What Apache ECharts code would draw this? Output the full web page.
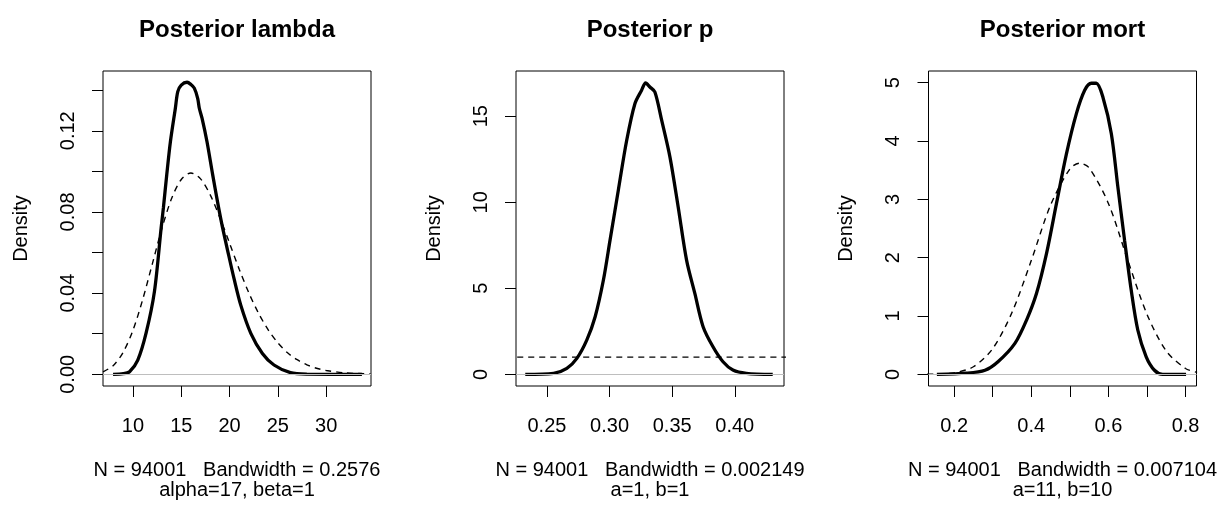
<!DOCTYPE html>
<html>
<head>
<meta charset="utf-8">
<script src="https://cdn.jsdelivr.net/npm/echarts@6/dist/echarts.min.js"></script>
<style>
  html, body { margin: 0; padding: 0; background: #fff; }
  #chart { width: 1222px; height: 505px; }
</style>
</head>
<body>
<div id="chart"></div>
<script>
// panel titles and x labels
const titles = ['Posterior lambda', 'Posterior p', 'Posterior mort']
const xlabs = [
  'N = 94001   Bandwidth = 0.2576\nalpha=17, beta=1',
  'N = 94001   Bandwidth = 0.002149\na=1, b=1',
  'N = 94001   Bandwidth = 0.007104\na=11, b=10'
]

// lambda: posterior density (solid) and gamma prior (dashed)
const lambdaX = [7.94, 9.0, 9.65, 10.5, 11.37, 12.23, 12.92, 13.15, 13.5, 13.88, 14.39, 14.64, 15.0, 15.6, 16.0, 16.35, 16.7, 16.87, 17.15, 17.66, 18.25, 18.87, 19.28, 19.8, 20.47, 21.16, 22.2, 23.4, 24.6, 26.3, 28.0, 33.7]
const lambdaPost = [0, 0.0003, 0.0013, 0.007, 0.0205, 0.041, 0.0722, 0.082, 0.0984, 0.1147, 0.1311, 0.1393, 0.1425, 0.1439, 0.1428, 0.141, 0.136, 0.1311, 0.1262, 0.1147, 0.0984, 0.082, 0.0722, 0.061, 0.047, 0.0341, 0.0202, 0.0103, 0.0046, 0.0008, 0.0001, 0]
const lambdaPriorX = [6.9, 8, 9, 10, 11, 12, 13, 14, 15, 16, 17, 18, 19, 20, 21, 22, 23, 24, 25, 26, 27, 28, 29, 30, 32, 34.6]
const lambdaPrior = [0.0012, 0.0045, 0.011, 0.0217, 0.0367, 0.0543, 0.0719, 0.0866, 0.096, 0.0992, 0.0963, 0.0884, 0.0772, 0.0646, 0.0518, 0.0401, 0.0301, 0.0219, 0.0155, 0.0106, 0.0072, 0.0047, 0.003, 0.0019, 0.0007, 0.0002]

// p: posterior density and flat prior
const pX = [0.2327, 0.2553, 0.2659, 0.2739, 0.2818, 0.2885, 0.2951, 0.3004, 0.307, 0.3137, 0.3203, 0.3256, 0.3288, 0.3322, 0.3362, 0.3416, 0.3482, 0.3548, 0.3615, 0.3681, 0.3747, 0.3826, 0.3906, 0.3985, 0.4092, 0.4303]
const pPost = [0, 0.06, 0.35, 0.93, 1.99, 3.35, 5.48, 7.8, 10.7, 13.6, 15.74, 16.51, 16.93, 16.7, 16.41, 14.77, 12.64, 9.73, 6.64, 4.7, 2.77, 1.6, 0.73, 0.25, 0.06, 0]
const pPriorX = [0.2, 0.46]
const pPrior = [1, 1]

// mort: posterior density and beta prior
const mortX = [0.1553, 0.2328, 0.2801, 0.3145, 0.3576, 0.3878, 0.4137, 0.4395, 0.4654, 0.4912, 0.517, 0.5385, 0.5558, 0.5687, 0.5858, 0.6075, 0.6246, 0.6419, 0.6592, 0.6762, 0.698, 0.7194, 0.7408, 0.8013]
const mortPost = [0, 0.02, 0.07, 0.22, 0.53, 0.93, 1.39, 2.07, 2.93, 3.78, 4.47, 4.87, 4.99, 4.99, 4.75, 4.13, 3.21, 2.3, 1.44, 0.76, 0.3, 0.07, 0, 0]
const mortPriorX = [0.13, 0.15, 0.2, 0.25, 0.3, 0.35, 0.4, 0.45, 0.5, 0.525, 0.55, 0.6, 0.65, 0.7, 0.75, 0.8, 0.83]
const mortPrior = [0.0007, 0.0025, 0.026, 0.13, 0.44, 1.06, 1.95, 2.9, 3.52, 3.62, 3.54, 2.93, 1.96, 1.03, 0.4, 0.1, 0.034]

// ticks and labels
const xTicks = [[10, 15, 20, 25, 30], [0.25, 0.30, 0.35, 0.40], [0.2, 0.3, 0.4, 0.5, 0.6, 0.7, 0.8]]
const xLabels = [[10, 15, 20, 25, 30], [0.25, 0.30, 0.35, 0.40], [0.2, 0.4, 0.6, 0.8]]
const yTicks = [[0, 0.02, 0.04, 0.06, 0.08, 0.10, 0.12, 0.14], [0, 5, 10, 15], [0, 1, 2, 3, 4, 5]]
const yLabels = [[0, 0.04, 0.08, 0.12], [0, 5, 10, 15], [0, 1, 2, 3, 4, 5]]

const xRange = [[6.9, 34.64], [0.2253, 0.4393], [0.1336, 0.8284]]
const yMax = [0.1437, 16.95, 5.0]
const xDigits = [0, 2, 1]
const yDigits = [2, 0, 0]

const zip = (xs, ys) => xs.map((x, i) => [x, ys[i]])
const posts = [zip(lambdaX, lambdaPost), zip(pX, pPost), zip(mortX, mortPost)]
const priors = [zip(lambdaPriorX, lambdaPrior), zip(pPriorX, pPrior), zip(mortPriorX, mortPrior)]

const FONT = 'Liberation Sans, Arial, Helvetica, sans-serif'
const gridLeft = [103, 516, 928.5]
const gridTop = 71
const gridW = 268
const gridH = 316

const chart = echarts.init(document.getElementById('chart'), null, { renderer: 'canvas' })

const option = {
  animation: false,
  backgroundColor: '#fff',
  textStyle: { fontFamily: FONT },
  title: titles.map((t, i) => ({
    text: t,
    left: gridLeft[i] + gridW / 2,
    top: 30,
    padding: 0,
    textAlign: 'center',
    textVerticalAlign: 'middle',
    textStyle: { fontFamily: FONT, fontSize: 24, fontWeight: 'bold', color: '#000' }
  })),
  grid: gridLeft.map((l) => ({
    left: l,
    top: gridTop,
    width: gridW,
    height: gridH,
    show: true,
    borderColor: '#000',
    borderWidth: 1,
    backgroundColor: 'transparent'
  })),
  xAxis: xRange.map((r, i) => ({
    type: 'value',
    gridIndex: i,
    min: r[0],
    max: r[1],
    name: xlabs[i],
    nameLocation: 'middle',
    nameGap: 74,
    nameTextStyle: { fontFamily: FONT, fontSize: 20, color: '#000', lineHeight: 20 },
    // keep the axis on the box edge, not at y = 0
    axisLine: { show: false, onZero: false },
    splitLine: { show: false },
    axisTick: { show: true, inside: false, length: 11, customValues: xTicks[i], lineStyle: { color: '#000', width: 1 } },
    axisLabel: {
      customValues: xLabels[i],
      margin: 30,
      fontFamily: FONT,
      fontSize: 20,
      color: '#000',
      formatter: (v) => Number(v).toFixed(xDigits[i])
    }
  })),
  yAxis: yMax.map((m, i) => ({
    type: 'value',
    gridIndex: i,
    min: -0.04 * m,
    max: 1.04 * m,
    name: 'Density',
    nameLocation: 'middle',
    nameRotate: 90,
    nameGap: 72,
    nameTextStyle: { fontFamily: FONT, fontSize: 20, color: '#000' },
    axisLine: { show: false, onZero: false },
    splitLine: { show: false },
    axisTick: { show: true, inside: false, length: 11, customValues: yTicks[i], lineStyle: { color: '#000', width: 1 } },
    axisLabel: {
      customValues: yLabels[i],
      rotate: 90,
      margin: 25,
      fontFamily: FONT,
      fontSize: 20,
      color: '#000',
      formatter: (v) => Number(v).toFixed(yDigits[i])
    }
  })),
  series: []
}

for (let i = 0; i < 3; i++) {
  option.series.push({
    type: 'line',
    xAxisIndex: i,
    yAxisIndex: i,
    data: priors[i],
    smooth: 0.3,
    showSymbol: false,
    clip: true,
    lineStyle: { color: '#000', width: 1.4, type: [6, 5] },
    z: 3
  })
  option.series.push({
    type: 'line',
    xAxisIndex: i,
    yAxisIndex: i,
    data: posts[i],
    smooth: 0.3,
    showSymbol: false,
    clip: true,
    lineStyle: { color: '#000', width: 3.3 },
    z: 4,
    markLine: {
      silent: true,
      symbol: 'none',
      label: { show: false },
      lineStyle: { color: '#bebebe', width: 1, type: 'solid' },
      data: [{ yAxis: 0 }]
    }
  })
}

chart.setOption(option)
</script>
</body>
</html>
